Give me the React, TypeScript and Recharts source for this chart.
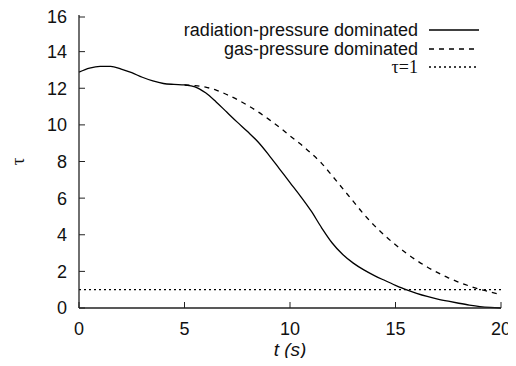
import React from "react";
import { LineChart, Line, XAxis, YAxis, Legend, ReferenceLine } from "recharts";

// time grid (s)
const times = [
  0, 0.5, 1, 1.5, 2, 2.5, 3, 3.5, 4, 4.5, 5, 5.5, 6, 6.5, 7, 7.5, 8, 8.5, 9, 9.5, 10,
  10.5, 11, 11.5, 12, 12.5, 13, 13.5, 14, 14.5, 15, 15.5, 16, 16.5, 17, 17.5, 18, 18.5,
  19, 19.5, 20,
];

// optical depth, radiation-pressure dominated
const radiationTau = [
  12.88, 13.1, 13.2, 13.2, 13.05, 12.85, 12.6, 12.4, 12.26, 12.21, 12.18, 12.08, 11.75,
  11.25, 10.7, 10.15, 9.62, 9.05, 8.35, 7.6, 6.85, 6.1, 5.3, 4.38, 3.55, 2.92, 2.45, 2.08,
  1.77, 1.5, 1.24, 1.0, 0.8, 0.63, 0.49, 0.37, 0.26, 0.16, 0.08, 0.03, 0,
];

// optical depth, gas-pressure dominated (same as above before t=5)
const gasTau = [
  null, null, null, null, null, null, null, null, null, null, 12.18, 12.14, 12.06, 11.9,
  11.66, 11.38, 11.06, 10.7, 10.3, 9.87, 9.4, 8.95, 8.45, 7.9, 7.22, 6.52, 5.82, 5.12, 4.5,
  3.95, 3.45, 3.0, 2.6, 2.24, 1.93, 1.65, 1.41, 1.2, 1.02, 0.87, 0.74,
];

const tauOne = 1;

const xTicks = [0, 5, 10, 15, 20];
const topTicks = [5, 10];
const yTicks = [0, 2, 4, 6, 8, 10, 12, 14, 16];

const legendItems = [
  { label: "radiation-pressure dominated", dash: undefined, serif: false },
  { label: "gas-pressure dominated", dash: "5 5", serif: false },
  { label: "τ=1", dash: "2 3", serif: true },
];

const data = times.map((t, i) => ({ t, radiation: radiationTau[i], gas: gasTau[i] }));

const FONT = "'Liberation Sans', Arial, Helvetica, sans-serif";
const SERIF = "'Liberation Serif', 'Times New Roman', serif";
const AXIS = "#222";
const TICK_LEN = 6;
const X_MARGIN = 14;
const Y_MARGIN = 12;

function BottomTick(props: any) {
  const { x, y, payload } = props;
  const axisY = y - X_MARGIN;
  return (
    <g>
      <line x1={x} x2={x} y1={axisY} y2={axisY - TICK_LEN} stroke={AXIS} strokeWidth={1} />
      <text x={x} y={y} dy="0.71em" textAnchor="middle" fontFamily={FONT} fontSize={18} fill="#111">
        {payload.value}
      </text>
    </g>
  );
}

function TopTick(props: any) {
  const { x, y } = props;
  return <line x1={x} x2={x} y1={y} y2={y + TICK_LEN} stroke={AXIS} strokeWidth={1} />;
}

function LeftTick(props: any) {
  const { x, y, payload } = props;
  const axisX = x + Y_MARGIN;
  return (
    <g>
      <line x1={axisX} x2={axisX + TICK_LEN} y1={y} y2={y} stroke={AXIS} strokeWidth={1} />
      <text x={x} y={y} dy="0.355em" textAnchor="end" fontFamily={FONT} fontSize={18} fill="#111">
        {payload.value}
      </text>
    </g>
  );
}

function KeyBox() {
  return (
    <div>
      {legendItems.map((item) => (
        <div
          key={item.label}
          style={{ display: "flex", justifyContent: "flex-end", alignItems: "center", height: 18.5 }}
        >
          <span
            style={{
              fontFamily: item.serif ? SERIF : FONT,
              fontSize: 18,
              color: "#111",
              lineHeight: "18.5px",
              whiteSpace: "nowrap",
            }}
          >
            {item.label}
          </span>
          <svg width={50} height={10} style={{ marginLeft: 11 }}>
            <line x1={0} x2={50} y1={5} y2={5} stroke="#000" strokeWidth={1.3} strokeDasharray={item.dash} />
          </svg>
        </div>
      ))}
    </div>
  );
}

export default function App() {
  return (
    <LineChart width={508} height={350} data={data} margin={{ top: 7, right: 15, left: 0, bottom: 0 }}>
      <XAxis
        dataKey="t"
        type="number"
        domain={[0, 20]}
        ticks={xTicks}
        height={50}
        tickSize={0}
        tickMargin={X_MARGIN}
        tickLine={false}
        axisLine={{ stroke: AXIS, strokeWidth: 1.4 }}
        tick={<BottomTick />}
        label={(p: any) => (
          <text
            x={p.viewBox.x + p.viewBox.width / 2}
            y={p.viewBox.y + 41}
            textAnchor="middle"
            dominantBaseline="central"
            fontFamily={FONT}
            fontStyle="italic"
            fontSize={19}
            fill="#111"
          >
            t (s)
          </text>
        )}
      />
      <XAxis
        xAxisId="top"
        orientation="top"
        dataKey="t"
        type="number"
        domain={[0, 20]}
        ticks={topTicks}
        height={0}
        tickSize={0}
        tickMargin={0}
        tickLine={false}
        axisLine={{ stroke: AXIS, strokeWidth: 1.3 }}
        tick={<TopTick />}
      />
      <YAxis
        type="number"
        domain={[0, 16]}
        ticks={yTicks}
        width={71}
        tickSize={0}
        tickMargin={Y_MARGIN}
        tickLine={false}
        axisLine={{ stroke: AXIS, strokeWidth: 1.3 }}
        tick={<LeftTick />}
        label={(p: any) => {
          const cx = p.viewBox.x + 9;
          const cy = p.viewBox.y + p.viewBox.height / 2;
          return (
            <text
              x={cx}
              y={cy}
              textAnchor="middle"
              dominantBaseline="central"
              transform={`rotate(-90 ${cx} ${cy})`}
              fontFamily={SERIF}
              fontSize={19}
              fill="#111"
            >
              τ
            </text>
          );
        }}
      />
      <YAxis
        yAxisId="right"
        orientation="right"
        type="number"
        domain={[0, 16]}
        width={0}
        tick={false}
        tickLine={false}
        axisLine={{ stroke: AXIS, strokeWidth: 1.3 }}
      />
      <ReferenceLine y={tauOne} stroke="#000" strokeWidth={1.2} strokeDasharray="2 3" />
      <Line
        type="monotone"
        dataKey="radiation"
        name="radiation-pressure dominated"
        stroke="#000"
        strokeWidth={1.3}
        dot={false}
        isAnimationActive={false}
      />
      <Line
        type="monotone"
        dataKey="gas"
        name="gas-pressure dominated"
        stroke="#000"
        strokeWidth={1.3}
        strokeDasharray="5 5"
        dot={false}
        isAnimationActive={false}
      />
      <Legend
        layout="horizontal"
        verticalAlign="middle"
        align="center"
        content={<KeyBox />}
        wrapperStyle={{ top: 13, left: 142, width: 329 }}
      />
    </LineChart>
  );
}
